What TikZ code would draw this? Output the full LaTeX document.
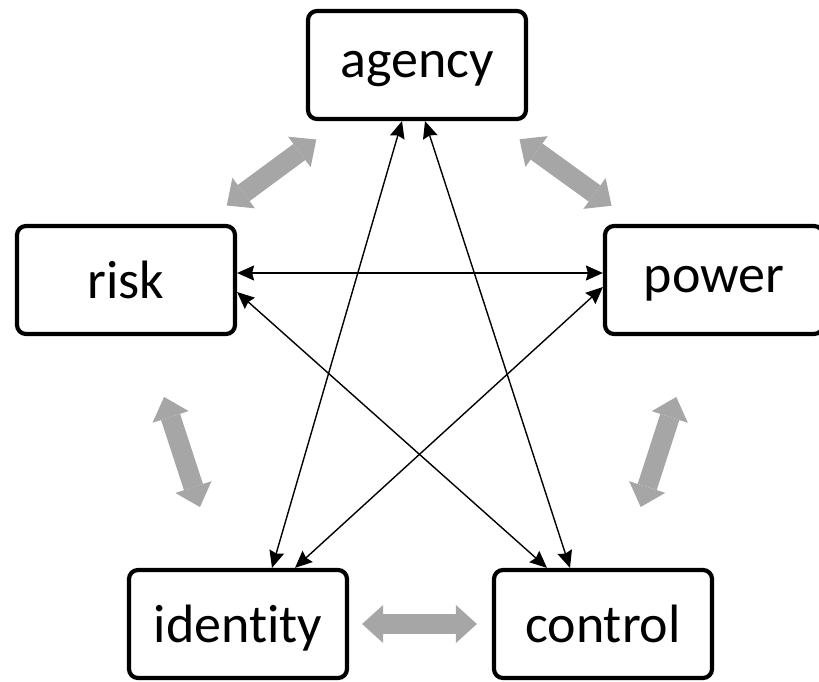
\documentclass[tikz,border=0pt]{standalone}
\usepackage{fontspec}
\setmainfont{Carlito}[Ligatures=NoCommon]
\usetikzlibrary{arrows.meta}

\definecolor{grigio}{RGB}{166,166,166}
\newcommand{\etichetta}[1]{\raisebox{0pt}[\height][\dimexpr\depth-8bp\relax]{#1}}

\tikzstyle{box} = [rectangle, rounded corners=9bp, minimum width=218bp, minimum height=108bp, line width=4.2bp, draw=black, fill=white, font=\fontsize{54bp}{60bp}\selectfont]
\tikzstyle{link} = [line width=1.4bp, {Stealth[length=17bp,width=15bp,inset=2bp]}-{Stealth[length=17bp,width=15bp,inset=2bp]}]
\tikzstyle{bigarrow} = [line width=20bp, draw=grigio, {Triangle[length=21bp,width=38bp,line width=0pt]}-{Triangle[length=21bp,width=38bp,line width=0pt]}]

\begin{document}
\begin{tikzpicture}[x=1bp,y=-1bp]

    \useasboundingbox (0,0) rectangle (819,682);

    % Nodi
    \node[box] (agency) at (417,65) {\etichetta{agency}};
    \node[box] (risk) at (126,280) {\etichetta{risk}};
    \node[box] (power) at (714,280) {\etichetta{power}};
    \node[box] (identity) at (238,624) {\etichetta{identity}};
    \node[box] (control) at (603,624) {\etichetta{control}};

    % Frecce grigie tra vicini
    \draw[bigarrow, shorten <=31bp, shorten >=31bp] (risk) -- (agency);
    \draw[bigarrow, shorten <=31bp, shorten >=31bp] (agency) -- (power);
    \draw[bigarrow, shorten <=64bp, shorten >=64bp] (risk) -- (identity);
    \draw[bigarrow, shorten <=64bp, shorten >=64bp] (power) -- (control);
    \draw[bigarrow, shorten <=13bp, shorten >=15bp] (identity) -- (control);

    % Collegamenti
    \draw[link] ([xshift=-15bp]agency.south) -- ([xshift=34bp]identity.north);
    \draw[link] ([xshift=8bp]agency.south) -- ([xshift=-33bp]control.north);
    \draw[link] ([yshift=7bp]risk.east) -- ([yshift=7bp]power.west);
    \draw[link] ([yshift=-12bp]risk.east) -- ([xshift=-56bp]control.north);
    \draw[link] ([yshift=-7bp]power.west) -- ([xshift=57bp]identity.north);

\end{tikzpicture}
\end{document}
